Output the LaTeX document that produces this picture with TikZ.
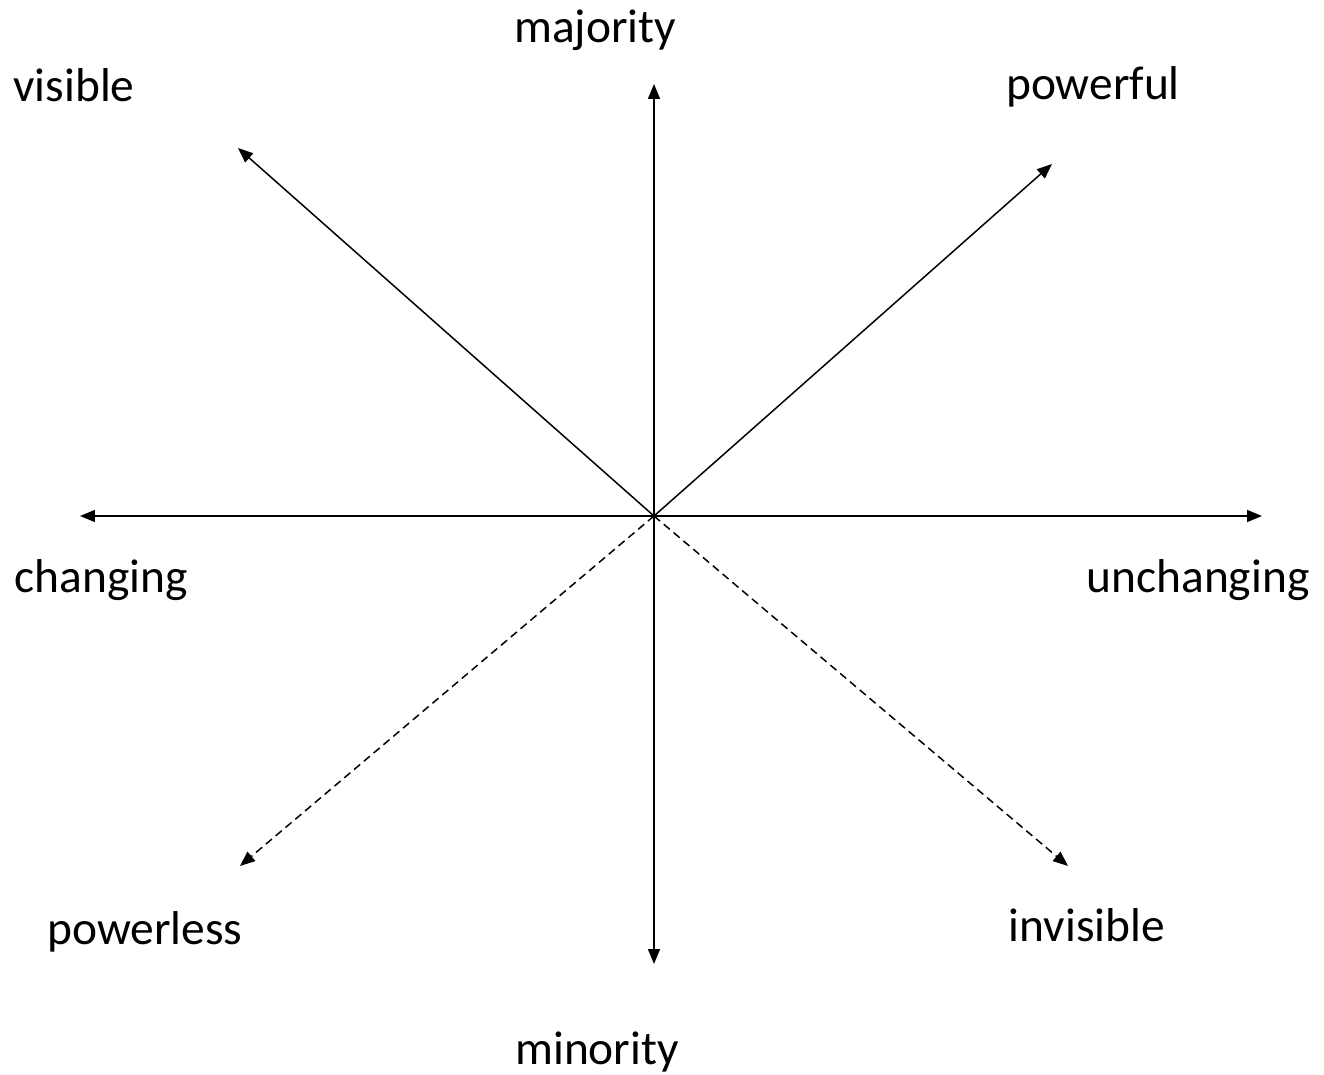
\documentclass[tikz,border=0pt]{standalone}
\usepackage{fontspec}
\setmainfont{Carlito}
\usetikzlibrary{arrows.meta,positioning}

\begin{document}
\begin{tikzpicture}
	\tikzstyle{axis} = [line width = 0.85pt, -{Triangle[length = 0.3cm, width = 0.24cm]}]
	\tikzstyle{weak} = [axis, dash pattern = on 4.5pt off 2.8pt]
	\tikzstyle{lbl} = [font = \fontsize{27}{30}\selectfont, inner sep = 0pt]
\useasboundingbox (-13.08, -11.16) rectangle (13.4, 10.32);
\coordinate (o) at (0, 0);
\coordinate (up) at (0, 8.64);
\coordinate (down) at (0, -8.96);
\coordinate (left) at (-11.48, 0);
\coordinate (right) at (12.16, 0);
\coordinate (ul) at (-8.32, 7.36);
\coordinate (ur) at (7.96, 7.04);
\coordinate (dl) at (-8.28, -7.0);
\coordinate (dr) at (8.28, -7.0);
\node[lbl] (maj) at (-1.18, 9.72) {majority};
\node[lbl] (min) at (-1.14, -10.72) {minority};
\node[lbl] (vis) at (-11.6, 8.62) {visible};
\node[lbl] (pow) at (8.78, 8.58) {powerful};
\node[lbl] (chg) at (-11.06, -1.28) {changing};
\node[lbl] (unchg) at (10.88, -1.28) {unchanging};
\node[lbl] (powl) at (-10.18, -8.32) {powerless};
\node[lbl] (invis) at (8.66, -8.18) {invisible};
	\path[axis] (o) edge (up);
	\path[axis] (o) edge (down);
	\path[axis] (o) edge (left);
	\path[axis] (o) edge (right);
	\path[axis] (o) edge (ul);
	\path[axis] (o) edge (ur);
	\path[weak] (o) edge (dl);
	\path[weak] (o) edge (dr);
\end{tikzpicture}
\end{document}
